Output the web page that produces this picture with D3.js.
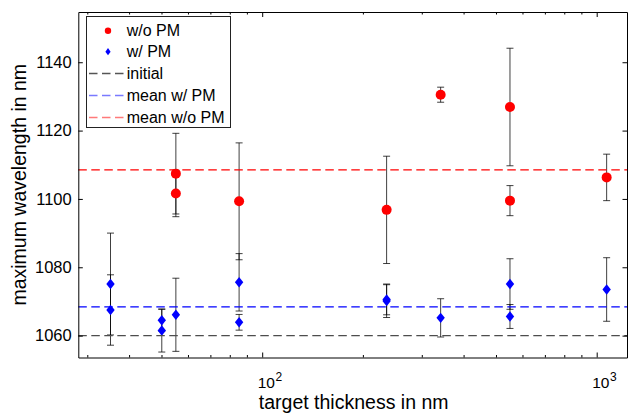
<!DOCTYPE html>
<html>
<head>
<meta charset="utf-8">
<script src="https://cdn.jsdelivr.net/npm/d3@7"></script>
<style>
  body { margin: 0; background: #fff; }
  svg { font-family: "Liberation Sans", Arial, sans-serif; }
</style>
</head>
<body>
<svg width="632" height="417"></svg>
<script>
// values
const thickNoPM = [55.2, 55.2, 85.3, 235.5, 341.6, 550.5, 550.5, 1071];
const wlNoPM    = [1107.4, 1101.6, 1099.3, 1096.8, 1130.5, 1126.9, 1099.5, 1106.3];
const errNoPM   = [11.8, 6.8, 17.1, 15.7, 2.2, 17.2, 4.4, 6.8];

const thickPM = [35.2, 35.2, 50.1, 50.1, 55.2, 85.3, 85.3, 235.5, 235.5, 341.6, 550.5, 550.5, 1071];
const wlPM    = [1075.1, 1067.5, 1064.5, 1061.5, 1066.1, 1075.6, 1063.9, 1070.1, 1070.6, 1065.2, 1075.1, 1065.6, 1073.5];
const errPM   = [14.9, 10.3, 3.2, 6.3, 10.7, 8.4, 2.3, 4.8, 4.5, 5.6, 7.4, 3.5, 9.3];

const initialWl = 1060;
const meanPM = 1068.4;
const meanNoPM = 1108.5;

const yTicks = [1060, 1080, 1100, 1120, 1140];
const xMajor = [100, 1000];
const xMinor = [30, 40, 50, 60, 70, 80, 90, 200, 300, 400, 500, 600, 700, 800, 900];
const xLabels = ["10", "10"], xExp = ["2", "3"];

const legendNames = ["w/o PM", "w/ PM", "initial", "mean w/ PM", "mean w/o PM"];

const margin = {left: 78.3, top: 12, right: 5, bottom: 59.5};
const width = 632 - margin.left - margin.right;
const height = 417 - margin.top - margin.bottom;

let svg = d3.select('svg');
let chart = svg.append('g')
    .attr('transform', `translate(${margin.left}, ${margin.top})`);

let xScale = d3.scaleLog().domain([28.2, 1232]).range([0, width]);
let yScale = d3.scaleLinear().domain([1053.6, 1154.7]).range([height, 0]);

let noPM = thickNoPM.map((t, i) => ({x: t, y: wlNoPM[i], e: errNoPM[i]}));
let withPM = thickPM.map((t, i) => ({x: t, y: wlPM[i], e: errPM[i]}));

// error bars
let bars = chart.append('g')
    .attr('stroke', '#000')
    .attr('stroke-opacity', 0.75)
    .attr('stroke-width', 1);
noPM.concat(withPM).forEach(d => {
    let cx = xScale(d.x), y0 = yScale(d.y - d.e), y1 = yScale(d.y + d.e);
    bars.append('line').attr('x1', cx).attr('x2', cx).attr('y1', y0).attr('y2', y1);
    bars.append('line').attr('x1', cx - 3.5).attr('x2', cx + 3.5).attr('y1', y0).attr('y2', y0);
    bars.append('line').attr('x1', cx - 3.5).attr('x2', cx + 3.5).attr('y1', y1).attr('y2', y1);
});

// markers
chart.selectAll('.red')
    .data(noPM)
    .enter()
    .append('circle')
    .attr('cx', d => xScale(d.x))
    .attr('cy', d => yScale(d.y))
    .attr('r', 5)
    .attr('fill', '#ff0000');

let diamond = (w, h) => `M0,${-h} L${w},0 L0,${h} L${-w},0 Z`;
chart.selectAll('.blue')
    .data(withPM)
    .enter()
    .append('path')
    .attr('transform', d => `translate(${xScale(d.x)}, ${yScale(d.y)})`)
    .attr('d', diamond(4.2, 5.2))
    .attr('fill', '#0000ff');

// horizontal reference lines
let hlines = [
    {v: initialWl, c: '#4d4d4d', lc: '#555555'},
    {v: meanPM, c: '#0000ff', lc: '#7a7aff'},
    {v: meanNoPM, c: '#ff0000', lc: '#ff7a7a'}
];
chart.selectAll('.hl')
    .data(hlines)
    .enter()
    .append('line')
    .attr('x1', 0).attr('x2', width)
    .attr('y1', d => yScale(d.v)).attr('y2', d => yScale(d.v))
    .attr('stroke', d => d.c)
    .attr('stroke-width', 1.3)
    .attr('stroke-dasharray', '8.5,4.5');

// axes, ticks inside on all four sides
let styleAxis = g => {
    g.selectAll('path').attr('stroke', '#000');
    g.selectAll('line').attr('stroke', '#000');
};
chart.append('g')
    .call(d3.axisLeft(yScale).tickValues(yTicks).tickFormat(d3.format('d')).tickSizeInner(-4.5).tickSizeOuter(0).tickPadding(6.6))
    .call(styleAxis)
    .call(g => g.selectAll('text').attr('font-size', '16.5px').attr('fill', '#000').attr('font-family', null));
chart.append('g')
    .attr('transform', `translate(${width}, 0)`)
    .call(d3.axisRight(yScale).tickValues(yTicks).tickSizeInner(-4.5).tickSizeOuter(0).tickFormat(''))
    .call(styleAxis);

[[d3.axisBottom, height], [d3.axisTop, 0]].forEach(([ax, ty]) => {
    chart.append('g')
        .attr('transform', `translate(0, ${ty})`)
        .call(ax(xScale).tickValues(xMajor).tickSizeInner(-5).tickSizeOuter(0).tickFormat(''))
        .call(styleAxis);
    chart.append('g')
        .attr('transform', `translate(0, ${ty})`)
        .call(ax(xScale).tickValues(xMinor).tickSizeInner(-2.5).tickSizeOuter(0).tickFormat(''))
        .call(styleAxis)
        .call(g => g.select('path').remove());
});

// log labels with exponents
xMajor.forEach((v, i) => {
    let t = chart.append('text')
        .attr('x', xScale(v) - 4.5)
        .attr('y', height + 30)
        .attr('font-size', '15.5px')
        .attr('fill', '#000');
    t.append('tspan').text(xLabels[i]);
    t.append('tspan').attr('font-size', '12px').attr('dy', -7).attr('dx', 0.5).text(xExp[i]);
});

svg.append('text')
    .attr('x', margin.left + width / 2 + 1)
    .attr('y', 409)
    .attr('text-anchor', 'middle')
    .attr('font-size', '19.5px')
    .attr('fill', '#000')
    .text('target thickness in nm');

svg.append('text')
    .attr('transform', `translate(26, ${margin.top + height / 2}) rotate(-90)`)
    .attr('text-anchor', 'middle')
    .attr('font-size', '19.5px')
    .attr('fill', '#000')
    .text('maximum wavelength in nm');

// legend
let legend = svg.append('g');
legend.append('rect')
    .attr('x', 86.5).attr('y', 16.5)
    .attr('width', 144).attr('height', 111)
    .attr('fill', '#fff')
    .attr('stroke', '#222')
    .attr('stroke-width', 1);

let legendY = [30.7, 51.7, 73.5, 95.5, 117.5];
legend.append('circle').attr('cx', 108).attr('cy', legendY[0]).attr('r', 3.2).attr('fill', '#ff0000');
legend.append('path')
    .attr('transform', `translate(108, ${legendY[1]})`)
    .attr('d', diamond(2.6, 3.6))
    .attr('fill', '#0000ff');
hlines.forEach((h, i) => {
    legend.append('line')
        .attr('x1', 89).attr('x2', 125)
        .attr('y1', legendY[i + 2]).attr('y2', legendY[i + 2])
        .attr('stroke', h.lc)
        .attr('stroke-width', 1.3)
        .attr('stroke-dasharray', '8.5,4.5');
});
legend.selectAll('.lt')
    .data(legendNames)
    .enter()
    .append('text')
    .attr('x', 126.7)
    .attr('y', (d, i) => legendY[i])
    .attr('dy', '0.36em')
    .attr('font-size', '16px')
    .attr('fill', '#000')
    .text(d => d);
</script>
</body>
</html>
